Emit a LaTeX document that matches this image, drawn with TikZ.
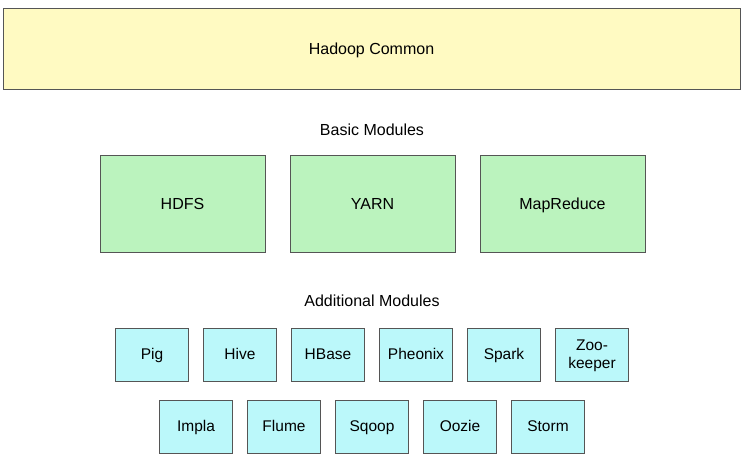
\documentclass[tikz,border=0pt]{standalone}
\usepackage{fontspec}
\setmainfont{Liberation Sans}
\definecolor{commonfill}{HTML}{FFFAC2}
\definecolor{basicfill}{HTML}{BBF3BE}
\definecolor{extrafill}{HTML}{BBF8FA}
\definecolor{boxline}{HTML}{555555}
\begin{document}
\begin{tikzpicture}[x=1pt, y=-1pt,
    layer/.style={rectangle, draw=boxline, line width=0.9pt, fill=commonfill,
        minimum width=737pt, minimum height=81pt, inner sep=0pt,
        text height=15pt, text depth=3.5pt,
        font=\fontsize{16}{18}\selectfont},
    basic/.style={rectangle, draw=boxline, line width=0.9pt, fill=basicfill,
        minimum width=165pt, minimum height=97pt, inner sep=0pt,
        text height=15pt, text depth=3.5pt,
        font=\fontsize{16}{18}\selectfont},
    extrabox/.style={rectangle, draw=boxline, line width=0.9pt, fill=extrafill,
        minimum width=73pt, minimum height=53pt, inner sep=0pt, align=center,
        font=\fontsize{15.5}{17.5}\selectfont},
    extra/.style={extrabox, text height=13.5pt, text depth=3.5pt},
    title/.style={font=\fontsize{16}{18}\selectfont}
]
    \useasboundingbox (0,0) rectangle (747,465);
    \node[layer] (common) at (371.5,48.5) {Hadoop Common};

    \node[title] (basictitle) at (372,130) {Basic Modules};
    \node[basic] (hdfs) at (182.5,203.5) {HDFS};
    \node[basic] (yarn) at (372.5,203.5) {YARN};
    \node[basic] (mapreduce) at (562.5,203.5) {MapReduce};

    \node[title] (extratitle) at (372,301) {Additional Modules};
    \node[extra] (pig) at (152,354.5) {Pig};
    \node[extra] (hive) at (240,354.5) {Hive};
    \node[extra] (hbase) at (328,354.5) {HBase};
    \node[extra] (pheonix) at (416,354.5) {Pheonix};
    \node[extra] (spark) at (504,354.5) {Spark};
    \node[extrabox] (zookeeper) at (592,354.5) {\\[-4pt]Zoo-\\keeper};
    \node[extra] (impla) at (196,426.5) {Impla};
    \node[extra] (flume) at (284,426.5) {Flume};
    \node[extra] (sqoop) at (372,426.5) {Sqoop};
    \node[extra] (oozie) at (460,426.5) {Oozie};
    \node[extra] (storm) at (548,426.5) {Storm};
\end{tikzpicture}
\end{document}
